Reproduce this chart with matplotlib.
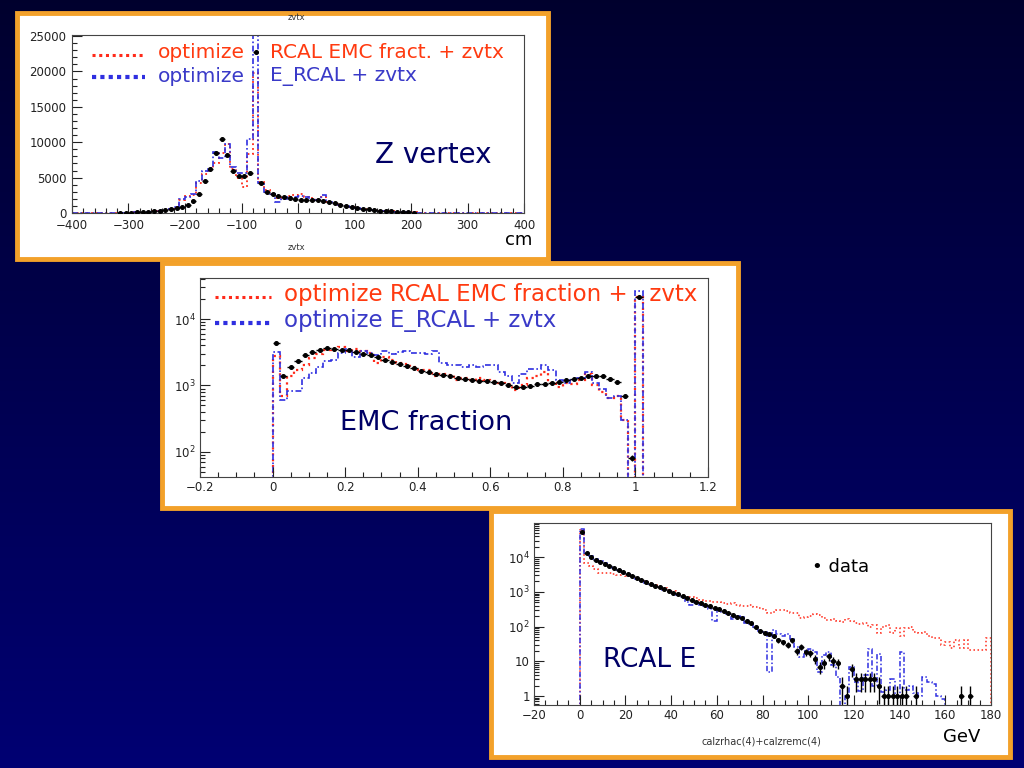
import numpy as np
import matplotlib
matplotlib.use('Agg')
import matplotlib.pyplot as plt
from matplotlib.patches import Rectangle
from matplotlib.lines import Line2D
from matplotlib.ticker import MultipleLocator, LogLocator, FuncFormatter, NullFormatter

# ---------------- data ----------------
# Panel 1: Z vertex (cm), 10 cm bins from -400 to 400
z_edges = np.arange(-400, 401, 10)
z_red = [0, 0, 0, 5, 5, 10, 15, 20, 30, 45,
         60, 80, 110, 150, 220, 300, 420, 600, 850, 1800,
         2400, 2600, 4200, 5500, 6200, 7000, 8500, 9800, 6200, 4900,
         3700, 8400, 19800, 4400, 3300, 2700, 2100, 2200, 2400, 2600,
         2700, 2300, 2100, 1900, 2200, 1600, 1400, 1200, 1050, 900,
         700, 550, 450, 380, 320, 270, 220, 180, 150, 120,
         90, 60, 40, 30, 20, 15, 10, 5, 0, 0,
         0, 0, 0, 0, 0, 0, 0, 0, 0, 0]
z_blue = [0, 0, 0, 5, 5, 10, 15, 20, 30, 45,
          60, 80, 110, 150, 220, 300, 420, 600, 900, 2000,
          2300, 2700, 4500, 6000, 6300, 8600, 7800, 9800, 6500, 5700,
          5600, 10400, 26500, 4300, 3000, 2700, 1500, 2000, 2300, 2300,
          2400, 2300, 2000, 1900, 2600, 1600, 1400, 1200, 1000, 850,
          700, 550, 450, 370, 310, 260, 210, 170, 140, 110,
          80, 55, 40, 30, 20, 15, 10, 5, 0, 0,
          0, 0, 0, 0, 0, 0, 0, 0, 0, 0]
z_data_x = [-315, -305, -295, -285, -275, -265, -255, -245, -235, -225,
            -215, -205, -195, -185, -175, -165, -155, -145, -135, -125,
            -115, -105, -95, -85, -75, -65, -55, -45, -35, -25,
            -15, -5, 5, 15, 25, 35, 45, 55, 65, 75,
            85, 95, 105, 115, 125, 135, 145, 155, 165, 175,
            185, 195, 205]
z_data = [30, 40, 60, 80, 110, 150, 220, 300, 400, 560,
          750, 900, 1200, 1700, 2650, 4500, 6200, 8500, 10400, 8200,
          5950, 5250, 5250, 5700, 22700, 4300, 3000, 2750, 2450, 2200,
          2150, 2000, 1900, 1900, 1850, 1800, 1750, 1500, 1350, 1200,
          1050, 900, 750, 600, 500, 420, 350, 290, 240, 200,
          170, 130, 60]

# Panel 2: EMC fraction, bins of 0.02 from 0 to 1.02
f_edges = np.linspace(0, 1.02, 52)
f_red = [2800, 700, 1400, 1700, 2000, 2600, 3000, 3400, 3500, 3800,
         3300, 3600, 3300, 3100, 2200, 2700, 2400, 2200, 2100, 1900,
         1700, 1700, 1400, 1500, 1450, 1200, 1300, 1200, 1300, 1200,
         1150, 1100, 1050, 850, 1000, 1300, 1400, 1600, 1100, 950,
         1100, 1050, 1200, 1500, 1000, 800, 650, 700, 300, 30,
         21500]
f_blue = [3200, 600, 820, 820, 1300, 1550, 1900, 2300, 2400, 3100,
          3500, 2700, 3300, 3100, 2900, 3300, 3000, 3200, 3300, 3100,
          3100, 3000, 3300, 2200, 2000, 2000, 1900, 2000, 1900, 2000,
          2000, 1600, 1400, 1100, 1500, 1800, 1800, 2000, 1700, 1200,
          1100, 1200, 1300, 1600, 1100, 900, 650, 700, 300, 30,
          26000]
f_data = [4400, 1410, 1890, 2320, 2900, 3170, 3440, 3640, 3580, 3440,
          3380, 3170, 2990, 2830, 2660, 2430, 2290, 2110, 1950, 1820,
          1680, 1590, 1500, 1450, 1380, 1310, 1250, 1190, 1170, 1160,
          1120, 1080, 1010, 950, 960, 970, 1040, 1070, 1080, 1130,
          1190, 1250, 1310, 1370, 1410, 1410, 1270, 1120, 690, 81,
          21800]

# Panel 3: RCAL E (GeV), bins of 2 GeV from 0 to 180
e_edges = np.arange(0, 181, 2)
e_data = [54000, 13000, 10000, 8500, 7300, 6300, 5500, 4800, 4200, 3700,
          3200, 2800, 2450, 2150, 1900, 1700, 1500, 1350, 1200, 1080,
          960, 850, 750, 650, 580, 520, 470, 430, 390, 355,
          320, 285, 250, 220, 195, 175, 150, 125, 100, 75,
          65, 60, 55, 40, 35, 30, 41, 20, 26, 19,
          17, 12, 7, 9, 14, 10, 9, 2, 1, 6,
          3, 3, 3, 3, 3, 2, 1, 1, 1, 1,
          1, 1, 0, 1, 0, 0, 0, 0, 0, 0,
          0, 0, 0, 1, 0, 1, 0, 0, 0, 0]
e_red = [60000, 6800, 5500, 4500, 3600, 3400, 3600, 3300, 3000, 3200,
         2900, 2700, 2600, 2200, 2000, 1800, 1600, 1400, 1300, 1150,
         1050, 950, 800, 720, 700, 650, 600, 560, 560, 520,
         500, 480, 450, 470, 420, 400, 380, 420, 360, 340,
         300, 250, 260, 300, 310, 280, 250, 240, 180, 190,
         200, 230, 220, 180, 160, 170, 150, 140, 165, 150,
         125, 120, 130, 100, 110, 65, 100, 110, 65, 90,
         52, 90, 95, 72, 65, 70, 55, 46, 48, 30,
         37, 24, 41, 24, 40, 21, 21, 21, 21, 46]
e_blue = [65000, 12000, 10500, 9000, 7600, 6600, 5700, 4900, 4300, 3700,
          3200, 2800, 2400, 2000, 1800, 1700, 1500, 1300, 1150, 1050,
          880, 800, 700, 500, 420, 480, 420, 380, 320, 150,
          300, 260, 230, 170, 200, 190, 130, 120, 90, 75,
          70, 5, 80, 60, 55, 60, 45, 25, 13, 20,
          22, 18, 5, 15, 18, 8, 3.6, 0, 1, 7,
          2.5, 1.4, 4, 22, 2, 16, 1.3, 1.5, 3, 1,
          19, 1.5, 2, 1.2, 1, 3.5, 2.6, 2.2, 1, 0.8,
          0, 0, 0, 0, 0, 0, 0, 0, 0, 0]

# ---------------- styling ----------------
W, H = 1024, 768
RED = '#ff2a1a'
BLUE = '#2f2fe0'
TXT_RED = '#ff3a10'
TXT_BLUE = '#3a3ac8'
NAVY = '#000066'
ORANGE = '#f3a12a'
DASHDOT = (0, (3.5, 1.5, 1, 1.5))
FS_TICK = 8.5
MS = 2.6

fig = plt.figure(figsize=(10.24, 7.68), dpi=100)


def fx(x):
    return x / W


def fy(y):
    return 1 - y / H


# background gradient
bg = fig.add_axes([0, 0, 1, 1], zorder=-10)
grad = np.linspace(0.18, 0.45, 256)[:, None]
img = np.zeros((256, 2, 3))
img[..., 2] = grad
bg.imshow(img, aspect='auto', extent=[0, 1, 0, 1], origin='upper')
bg.set_axis_off()


def box(x0, y0, x1, y1):
    fig.add_artist(Rectangle((fx(x0), fy(y1)), (x1 - x0) / W, (y1 - y0) / H,
                             transform=fig.transFigure, facecolor='white',
                             edgecolor=ORANGE, linewidth=3.5, zorder=-5))


def make_axes(x0, y0, x1, y1):
    ax = fig.add_axes([fx(x0), fy(y1), (x1 - x0) / W, (y1 - y0) / H])
    ax.set_facecolor('white')
    ax.tick_params(which='both', direction='in', top=False, right=False,
                   labelsize=FS_TICK, width=0.8, pad=3, colors='#222222')
    ax.tick_params(which='major', length=7)
    ax.tick_params(which='minor', length=3.5)
    for s in ax.spines.values():
        s.set_linewidth(0.8)
        s.set_color('#444444')
    return ax


def g_fmt(v, pos):
    return ('%g' % v).replace('-', '\u2212')


def sample(x0, x1, y, color, lw, dashes):
    fig.add_artist(Line2D([fx(x0), fx(x1)], [fy(y), fy(y)], transform=fig.transFigure,
                          color=color, lw=lw, linestyle=dashes, zorder=5))


def ftext(x, y, s, **kw):
    kw.setdefault('va', 'center')
    kw.setdefault('ha', 'left')
    fig.text(fx(x), fy(y), s, zorder=6, **kw)


box(17, 13, 548, 259)
box(162, 263, 738, 508)
box(491, 511, 1010, 757)

# ---------------- panel 1 ----------------
ax1 = make_axes(72, 35, 524, 213)
ax1.stairs(z_red, z_edges, color=RED, ls=':', lw=1.3, baseline=0)
ax1.stairs(z_blue, z_edges, color=BLUE, ls=DASHDOT, lw=1.2, baseline=0)
zd = np.array(z_data, float)
ax1.errorbar(z_data_x, zd, xerr=5, yerr=np.sqrt(zd), fmt='o', ms=MS, color='k',
             elinewidth=1, capsize=0, zorder=5)
ax1.set_xlim(-400, 400)
ax1.set_ylim(0, 25150)
ax1.xaxis.set_major_locator(MultipleLocator(100))
ax1.xaxis.set_minor_locator(MultipleLocator(20))
ax1.yaxis.set_major_locator(MultipleLocator(5000))
ax1.yaxis.set_minor_locator(MultipleLocator(1000))
ax1.xaxis.set_major_formatter(FuncFormatter(g_fmt))
ax1.tick_params(axis='x', pad=4.5)
ax1.tick_params(axis='y', pad=4)

sample(92, 145, 55, RED, 2.2, (0, (1, 1.2)))
sample(92, 145, 77, BLUE, 3.0, (0, (1, 1)))
ftext(158, 53, 'optimize', color=TXT_RED, fontsize=14.5)
ftext(270, 53, 'RCAL EMC fract. + zvtx', color=TXT_RED, fontsize=14.5)
ftext(158, 76, 'optimize', color=TXT_BLUE, fontsize=14.5)
ftext(270, 76, 'E_RCAL + zvtx', color=TXT_BLUE, fontsize=14.5)
ftext(433, 155, 'Z vertex', color=NAVY, fontsize=20, ha='center')
ftext(519, 240, 'cm', color='black', fontsize=13, ha='center')
ftext(296, 247, 'zvtx', color='#333333', fontsize=6, ha='center')
ftext(296, 18, 'zvtx', color='#333333', fontsize=6, ha='center')

# ---------------- panel 2 ----------------
ax2 = make_axes(200, 278, 708, 477)
ax2.set_yscale('log')
ax2.stairs(f_red, f_edges, color=RED, ls=':', lw=1.6, baseline=1)
ax2.stairs(f_blue, f_edges, color=BLUE, ls=DASHDOT, lw=1.2, baseline=1)
fd = np.array(f_data, float)
fc = 0.5 * (f_edges[:-1] + f_edges[1:])
ax2.errorbar(fc, fd, xerr=0.01, yerr=np.sqrt(fd), fmt='o', ms=MS, color='k',
             elinewidth=1, capsize=0, zorder=5)
ax2.set_xlim(-0.2, 1.2)
ax2.set_ylim(42, 41400)
ax2.xaxis.set_major_locator(MultipleLocator(0.2))
ax2.xaxis.set_minor_locator(MultipleLocator(0.05))
ax2.xaxis.set_major_formatter(FuncFormatter(g_fmt))
ax2.yaxis.set_major_locator(LogLocator(base=10))
ax2.yaxis.set_minor_locator(LogLocator(base=10, subs=np.arange(2, 10)))
ax2.yaxis.set_minor_formatter(NullFormatter())
ax2.yaxis.set_major_formatter(FuncFormatter(lambda v, p: r'$10^{%d}$' % round(np.log10(v))))

sample(215, 271, 297, RED, 2.2, (0, (1, 1.2)))
sample(215, 271, 323, BLUE, 3.0, (0, (1, 1)))
ftext(284, 295, 'optimize RCAL EMC fraction +   zvtx', color=TXT_RED, fontsize=16.5)
ftext(284, 321, 'optimize E_RCAL + zvtx', color=TXT_BLUE, fontsize=16.5)
ftext(426, 423, 'EMC fraction', color=NAVY, fontsize=19.5, ha='center')

# ---------------- panel 3 ----------------
ax3 = make_axes(534, 523, 991, 705)
ax3.set_yscale('log')
ax3.stairs(np.clip(e_red, 1e-3, None), e_edges, color=RED, ls=':', lw=1.1, baseline=1e-3)
ax3.stairs(np.clip(e_blue, 1e-3, None), e_edges, color=BLUE, ls=DASHDOT, lw=1.1, baseline=1e-3)
ed = np.array(e_data, float)
ec = 0.5 * (e_edges[:-1] + e_edges[1:])
m = ed > 0
err = np.sqrt(ed[m])
lo = np.minimum(err, ed[m] * 0.999)
ax3.errorbar(ec[m], ed[m], xerr=1, yerr=[lo, err], fmt='o', ms=MS, color='k',
             elinewidth=1, capsize=0, zorder=5)
ax3.set_xlim(-20, 180)
ax3.set_ylim(0.55, 0.97e5)
ax3.xaxis.set_major_locator(MultipleLocator(20))
ax3.xaxis.set_minor_locator(MultipleLocator(5))
ax3.xaxis.set_major_formatter(FuncFormatter(g_fmt))
ax3.yaxis.set_major_locator(LogLocator(base=10))
ax3.yaxis.set_minor_locator(LogLocator(base=10, subs=np.arange(2, 10)))
ax3.yaxis.set_minor_formatter(NullFormatter())


def log_fmt3(v, p):
    n = round(np.log10(v))
    if n == 0:
        return '1'
    if n == 1:
        return '10'
    return r'$10^{%d}$' % n


ax3.yaxis.set_major_formatter(FuncFormatter(log_fmt3))

ftext(812, 567, '\u2022 data', color='black', fontsize=13)
ftext(650, 660, 'RCAL E', color=NAVY, fontsize=19, ha='center')
ftext(761, 741, 'calzrhac(4)+calzremc(4)', color='#333333', fontsize=7, ha='center')
ftext(962, 737, 'GeV', color='black', fontsize=13, ha='center')

fig.savefig('out.png', dpi=100)
